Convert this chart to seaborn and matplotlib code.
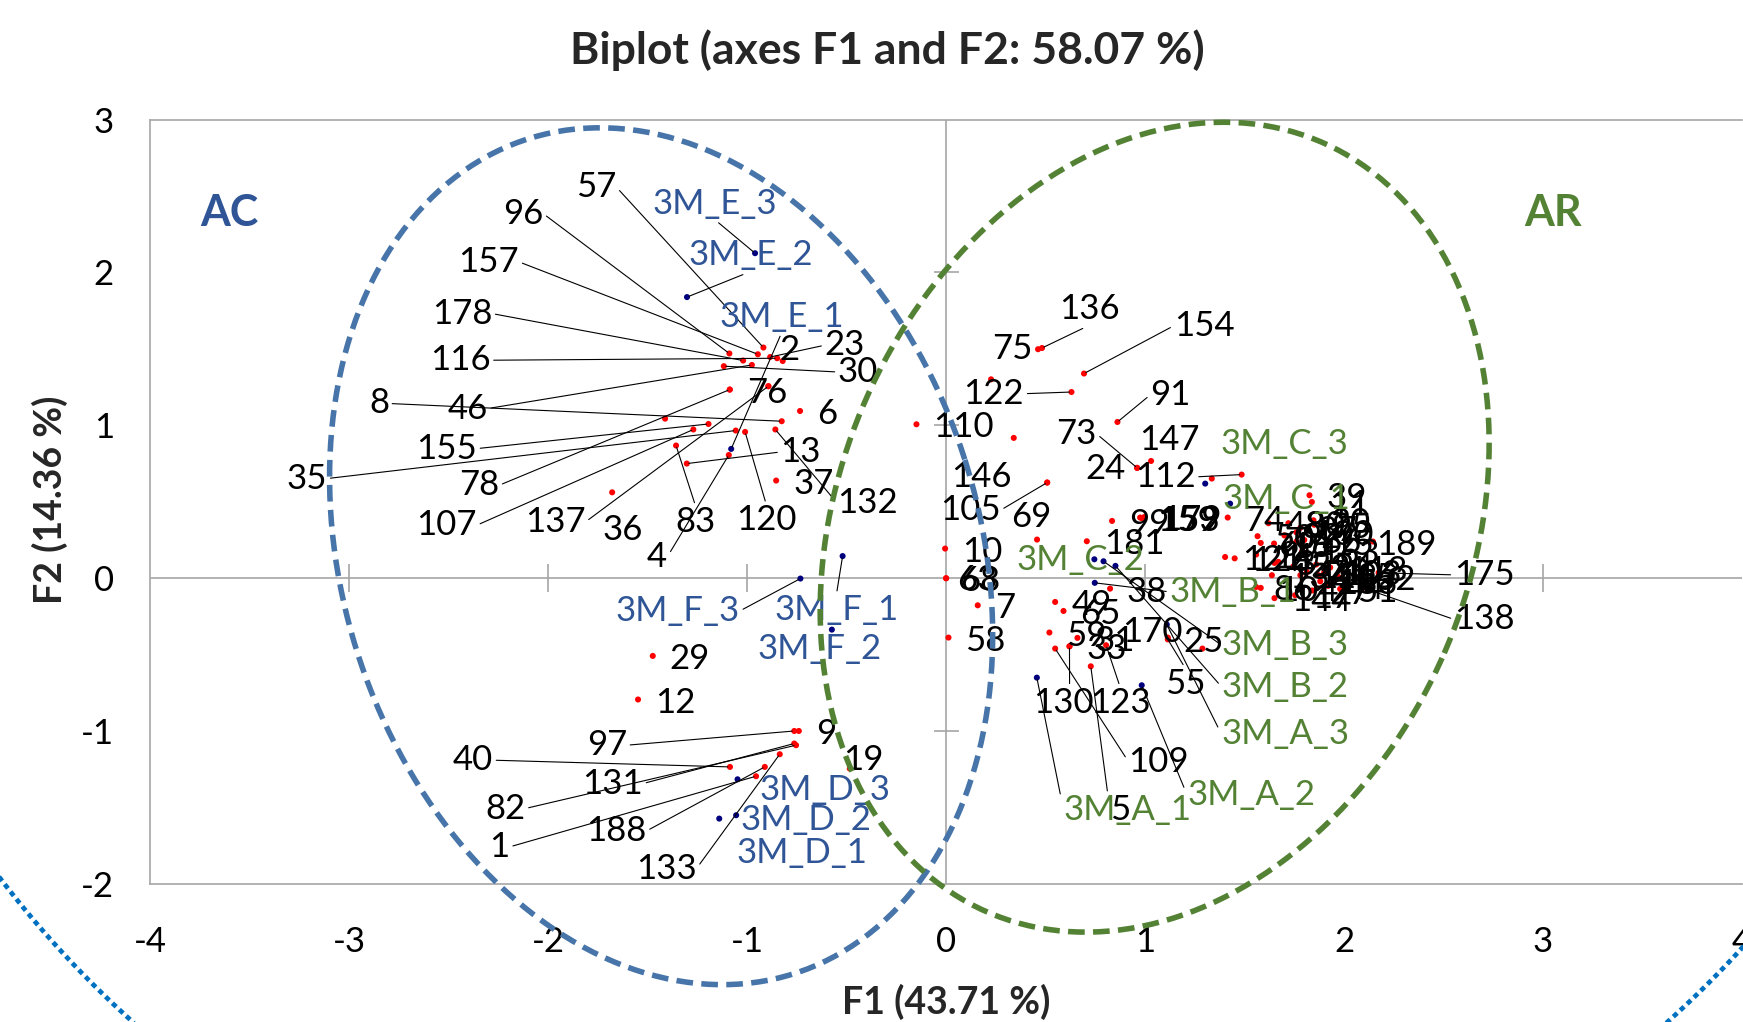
"""PCA biplot (F1 x F2) with observations, samples and the two group ellipses."""

import matplotlib

matplotlib.use("Agg")
import matplotlib.pyplot as plt
import numpy as np
import pandas as pd
import seaborn as sns

# ---- observations (red points) -------------------------------------------
obs_labels = [
    "57", "96", "157", "23", "116", "2", "178", "46", "30", "78", "76", "6",
    "8", "155", "107", "35", "120", "132", "83", "4", "13", "37", "137", "36",
    "29", "12", "9", "97", "40", "131", "82", "188", "1", "133", "19",
    "136", "75", "154", "122", "110", "91", "73", "24", "147", "112", "146",
    "105", "69", "10", "63", "68", "7", "58", "181", "99", "159", "153", "179",
    "38", "49", "65", "59", "31", "33", "130", "123", "5", "109", "170", "25",
    "55", "74", "39", "11", "189", "175", "138",
    "48", "80", "87", "95", "50", "60", "92", "66", "100", "115", "163", "121",
    "126", "14", "42", "52", "71", "94", "103", "118", "162", "86", "104",
    "144", "17", "27", "44", "51", "134", "158", "165", "183", "3", "16", "20",
]
obs_f1 = [
    -0.918, -1.089, -0.946, -0.884, -0.849, -0.821, -1.020, -0.976, -1.117, -1.087, -1.087, -0.734,
    -0.826, -1.194, -1.270, -1.057, -1.010, -0.858, -1.357, -1.092, -1.303, -0.854, -0.893, -1.678,
    -1.474, -1.548, -0.740, -0.763, -1.086, -0.763, -0.754, -0.911, -0.955, -0.836, -0.484,
    0.482, 0.462, 0.693, 0.630, -0.149, 0.861, 0.960, 0.960, 1.030, 1.485, 0.508,
    0.508, 0.457, -0.005, 0.000, 0.000, 0.159, 0.012, 0.707, 0.834, 0.975, 0.985, 0.995,
    0.824, 0.548, 0.590, 0.519, 0.660, 0.620, 0.620, 0.804, 0.727, 0.548, 1.114, 1.288,
    1.114, 1.415, 1.826, 1.838, 2.145, 2.173, 2.117,
    1.620, 1.720, 1.780, 1.850, 1.565, 1.581, 1.700, 1.800, 1.760, 1.760, 1.790, 1.402,
    1.450, 1.558, 1.650, 1.745, 1.813, 1.860, 1.900, 1.930, 1.970, 1.558, 1.581,
    1.650, 1.754, 1.840, 1.920, 1.980, 1.637, 1.780, 1.871, 1.880, 1.670, 1.648, 1.846,
]
obs_f2 = [
    1.509, 1.470, 1.465, 1.447, 1.439, 1.421, 1.424, 1.395, 1.387, 1.234, 1.234, 1.094,
    1.027, 1.009, 0.973, 0.966, 0.957, 0.973, 0.868, 0.806, 0.750, 0.639, 1.256, 0.562,
    -0.508, -0.793, -0.999, -0.999, -1.234, -1.081, -1.092, -1.234, -1.295, -1.151, -1.245,
    1.506, 1.498, 1.339, 1.218, 1.007, 1.022, 0.722, 0.722, 0.767, 0.678, 0.626,
    0.626, 0.253, 0.194, 0.000, 0.000, -0.177, -0.388, 0.242, 0.375, 0.397, 0.392, 0.400,
    -0.068, -0.155, -0.214, -0.355, -0.390, -0.445, -0.445, -0.438, -0.576, -0.460, -0.388, -0.460,
    -0.400, 0.397, 0.543, 0.499, 0.240, 0.036, -0.073,
    0.360, 0.360, 0.330, 0.350, 0.275, 0.231, 0.280, 0.250, 0.300, 0.240, 0.180, 0.139,
    0.130, 0.155, 0.100, 0.078, 0.041, 0.090, 0.040, 0.070, 0.010, -0.057, -0.063,
    -0.130, -0.111, -0.080, -0.050, -0.070, 0.020, 0.020, 0.020, -0.020, 0.107, 0.227, 0.379,
]

# observations whose labels are hidden in the original chart
hidden_f1 = [-1.412, -0.893, 0.226, 0.340, 1.335]
hidden_f2 = [1.044, 1.256, 1.301, 0.918, 0.652]

# ---- samples (dark blue points) ------------------------------------------
sample_labels = [
    "3M_E_3", "3M_E_2", "3M_E_1", "3M_F_1", "3M_F_2", "3M_F_3",
    "3M_D_3", "3M_D_2", "3M_D_1",
    "3M_C_3", "3M_C_1", "3M_C_2", "3M_B_3", "3M_B_2", "3M_B_1",
    "3M_A_3", "3M_A_2", "3M_A_1",
]
sample_f1 = [
    -0.960, -1.302, -1.080, -0.520, -0.574, -0.732,
    -1.048, -1.055, -1.140,
    1.302, 1.427, 0.745, 0.791, 0.851, 0.747,
    1.109, 0.983, 0.456,
]
sample_f2 = [
    2.126, 1.839, 0.846, 0.145, -0.336, -0.002,
    -1.315, -1.550, -1.572,
    0.619, 0.488, 0.124, 0.111, 0.081, -0.030,
    -0.303, -0.700, -0.650,
]
sample_group = ["AC"] * 9 + ["AR"] * 9

# ---- label layout: moved labels (x, y, leader attach point or None) ------
LABEL_LAYOUT = {
    "57": (-1.759, 2.559, (1, 0.5)), "96": (-2.126, 2.385, (1, 0.5)),
    "157": (-2.298, 2.069, (1, 0.5)), "178": (-2.433, 1.731, (1, 0.5)),
    "116": (-2.442, 1.426, (1, 0.5)), "8": (-2.850, 1.143, (1, 0.5)),
    "46": (-2.404, 1.110, (1, 0.5)), "155": (-2.510, 0.848, (1, 0.5)),
    "35": (-3.212, 0.652, (1, 0.5)), "78": (-2.347, 0.608, (1, 0.5)),
    "107": (-2.510, 0.347, (1, 0.5)), "137": (-1.965, 0.368, (1, 0.5)),
    "36": (-1.625, 0.314, None), "83": (-1.259, 0.368, (0.5, 1)),
    "4": (-1.452, 0.139, (1, 0.5)), "120": (-0.904, 0.379, (0.5, 1)),
    "132": (-0.397, 0.494, (0, 0.5)), "13": (-0.730, 0.826, (0, 0.5)),
    "2": (-0.788, 1.491, None), "23": (-0.509, 1.524, (0, 0.5)),
    "30": (-0.442, 1.349, (0, 0.5)),
    "97": (-1.705, -1.092, (1, 0.5)), "40": (-2.378, -1.190, (1, 0.5)),
    "131": (-1.676, -1.343, (1, 0.5)), "82": (-2.215, -1.506, (1, 0.5)),
    "188": (-1.657, -1.653, (1, 0.5)), "1": (-2.244, -1.757, (1, 0.5)),
    "133": (-1.407, -1.899, (1, 0.5)), "19": (-0.417, -1.190, None),
    "136": (0.721, 1.760, (0.5, 0)), "75": (0.332, 1.502, None),
    "154": (1.296, 1.651, (0, 0.5)), "122": (0.240, 1.207, (1, 0.5)),
    "91": (1.128, 1.200, (0, 0.5)), "73": (0.654, 0.945, (1, 0.5)),
    "24": (0.803, 0.717, None), "147": (1.121, 0.903, None),
    "112": (1.101, 0.663, (1, 0.5)), "146": (0.178, 0.663, None),
    "105": (0.121, 0.445, (1, 0.5)), "69": (0.430, 0.400, None),
    "63": (0.155, -0.010, None), "68": (0.170, -0.020, None),
    "130": (0.590, -0.815, (0.6, 1)), "123": (0.874, -0.815, (0.5, 1)),
    "5": (0.874, -1.517, (0, 0.5)), "109": (1.069, -1.201, (0, 0.5)),
    "170": (1.038, -0.351, None), "25": (1.296, -0.415, None),
    "55": (1.201, -0.691, (0.5, 1)),
    "189": (2.313, 0.218, (0, 0.5)), "175": (2.704, 0.022, (0, 0.5)),
    "138": (2.704, -0.269, (0, 0.5)),
    "3M_E_3": (-1.163, 2.451, (0.5, 0)), "3M_E_2": (-0.980, 2.112, (0.5, 0)),
    "3M_E_1": (-0.827, 1.709, (0.5, 0)), "3M_F_1": (-0.551, -0.209, (0.5, 1)),
    "3M_F_2": (-0.638, -0.460, None), "3M_F_3": (-1.349, -0.214, (1, 0.5)),
    "3M_D_3": (-0.609, -1.387, None), "3M_D_2": (-0.705, -1.583, None),
    "3M_D_1": (-0.725, -1.800, None),
    "3M_C_3": (1.702, 0.881, None), "3M_C_1": (1.712, 0.521, None),
    "3M_C_2": (0.673, 0.118, None), "3M_B_3": (1.704, -0.438, (0, 0.5)),
    "3M_B_2": (1.704, -0.711, (0, 0.5)), "3M_B_1": (1.442, -0.089, (0, 0.5)),
    "3M_A_3": (1.704, -1.016, (0, 0.5)), "3M_A_2": (1.533, -1.419, (0, 0.5)),
    "3M_A_1": (0.912, -1.517, (0, 0.5)),
}

# pixel scale of the data units (for the tilted ellipses)
PX_X, PX_Y = 199.0, 152.9
# group ellipses: centre (data), semi axes (px), tilt (deg), colour
GROUP_ELLIPSES = {
    "AC": ((-1.432, 0.144), 318.7, 438.1, 17.7, "#4775A9"),
    "AR": ((1.048, 0.334), 315.8, 419.7, -23.5, "#548235"),
}
GROUP_TEXT = {"AC": (-3.60, 2.39, "#2F5597"), "AR": (3.05, 2.39, "#548235")}
SAMPLE_COLOR = {"AC": "#2F5597", "AR": "#548235"}

FONT_SIZE = 25
AXIS_GRAY = "#A6A6A6"


def ellipse_xy(centre, a_px, b_px, tilt_deg, n=400):
    t = np.linspace(0, 2 * np.pi, n)
    phi = np.deg2rad(tilt_deg)
    dx = a_px * np.cos(t) * np.cos(phi) - b_px * np.sin(t) * np.sin(phi)
    dy = a_px * np.cos(t) * np.sin(phi) + b_px * np.sin(t) * np.cos(phi)
    return centre[0] + dx / PX_X, centre[1] + dy / PX_Y


def place_label(axis, text, x, y, color):
    layout = LABEL_LAYOUT.get(text)
    style = dict(color=color, fontsize=FONT_SIZE, zorder=5)
    if layout is None:
        axis.text(x + 0.085, y - 0.02, text, ha="left", va="center", **style)
        return
    label_x, label_y, relpos = layout
    if relpos is None:
        axis.text(label_x, label_y, text, ha="center", va="center", **style)
        return
    axis.annotate(
        text, xy=(x, y), xytext=(label_x, label_y), textcoords="data",
        ha="center", va="center", annotation_clip=False,
        arrowprops=dict(arrowstyle="-", color="black", lw=0.8, relpos=relpos,
                        shrinkA=0, shrinkB=1.5),
        **style,
    )


sns.set_style("white")
plt.rcParams["font.family"] = ["Lato", "DejaVu Sans"]
plt.rcParams["axes.unicode_minus"] = False

points = pd.concat(
    [
        pd.DataFrame({"F1": obs_f1, "F2": obs_f2, "kind": "obs"}),
        pd.DataFrame({"F1": hidden_f1, "F2": hidden_f2, "kind": "obs"}),
        pd.DataFrame({"F1": sample_f1, "F2": sample_f2, "kind": "sample"}),
    ],
    ignore_index=True,
)

figure = plt.figure(figsize=(17.43, 10.22), dpi=100)
axis = figure.add_axes([0.0861, 0.1350, 0.9134, 0.7480])

axis.axhline(0, color=AXIS_GRAY, lw=1.2, zorder=1)
axis.axvline(0, color=AXIS_GRAY, lw=1.2, zorder=1)
x_ticks = [-3, -2, -1, 1, 2, 3]
y_ticks = [-1, 1, 2]
axis.plot(x_ticks, [0] * len(x_ticks), ls="none", marker="|", ms=20, mew=1.2, color=AXIS_GRAY, zorder=1)
axis.plot([0] * len(y_ticks), y_ticks, ls="none", marker="_", ms=18, mew=1.2, color=AXIS_GRAY, zorder=1)

sns.scatterplot(
    data=points, x="F1", y="F2", hue="kind",
    palette={"obs": "#FF0000", "sample": "#00007F"},
    s=19, linewidth=0, legend=False, ax=axis, zorder=3,
)

for label, f1, f2 in zip(obs_labels, obs_f1, obs_f2):
    place_label(axis, label, f1, f2, "black")
for label, f1, f2, group in zip(sample_labels, sample_f1, sample_f2, sample_group):
    place_label(axis, label, f1, f2, SAMPLE_COLOR[group])

for group, (centre, a_px, b_px, tilt, color) in GROUP_ELLIPSES.items():
    ex, ey = ellipse_xy(centre, a_px, b_px, tilt)
    axis.plot(ex, ey, color=color, lw=4.0, dashes=(3.0, 1.5), clip_on=False, zorder=6)
for group, (gx, gy, color) in GROUP_TEXT.items():
    axis.text(gx, gy, group, color=color, fontsize=31, fontweight="bold", ha="center", va="center")

# large dotted outline, only its lower part reaches into the picture
ox, oy = ellipse_xy((-0.231, 1.818), 1098, 1009, 0, n=900)
axis.plot(ox, oy, color="#0070C0", lw=3.4, dashes=(1.1, 0.9), clip_on=False, zorder=6)

axis.set_xlim(-4, 4)
axis.set_ylim(-2, 3)
axis.set_xticks(range(-4, 5))
axis.set_yticks(range(-2, 4))
axis.set_xticklabels([str(v) for v in range(-4, 5)])
axis.set_yticklabels([str(v) for v in range(-2, 4)])
axis.tick_params(axis="x", length=0, pad=30, labelsize=FONT_SIZE, labelcolor="black")
axis.tick_params(axis="y", length=0, pad=26, labelsize=FONT_SIZE, labelcolor="black")
axis.set_xlabel("")
axis.set_ylabel("")
for side in ["top", "left", "bottom"]:
    axis.spines[side].set_color(AXIS_GRAY)
    axis.spines[side].set_linewidth(1.2)
axis.spines["right"].set_visible(False)

figure.text(0.509, 0.951, "Biplot (axes F1 and F2: 58.07 %)", ha="center", va="center",
            fontsize=32, fontweight="bold")
figure.text(0.5427, 0.020, "F1 (43.71 %)", ha="center", va="center", fontsize=27, fontweight="bold")
figure.text(0.0287, 0.511, "F2 (14.36 %)", ha="center", va="center", rotation=90,
            fontsize=27, fontweight="bold")

figure.savefig("out.png", dpi=100)
